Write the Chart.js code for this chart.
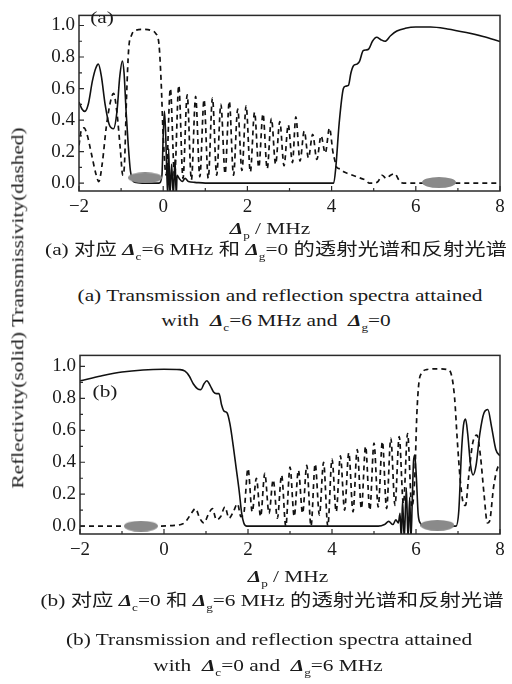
<!DOCTYPE html>
<html>
<head>
<meta charset="utf-8">
<title>Transmission and reflection spectra</title>
<script src="https://cdn.jsdelivr.net/npm/chart.js@4.4.1/dist/chart.umd.min.js"></script>
<style>
  html, body { margin: 0; padding: 0; background: #fff; }
  #fig { position: relative; width: 512px; height: 684px; overflow: hidden;
         font-family: "Liberation Serif", "Noto Sans CJK SC", serif; color: #1a1a1a; }
  canvas { position: absolute; left: 0; }
  .txt { position: absolute; white-space: nowrap; font-size: 17.5px; line-height: 1;
         transform: translate(-50%, -50%) scaleX(1.22); }
  .d { font-weight: bold; font-style: italic; }
  sub { font-size: 0.62em; vertical-align: -0.45em; line-height: 0; }
  #ylab { transform: translate(-50%, -50%) rotate(-90deg) scaleX(1.22); }
</style>
</head>
<body>
<div id="fig">
  <canvas id="chartA" width="512" height="230" style="top:0"></canvas>
  <canvas id="chartB" width="512" height="230" style="top:340px"></canvas>

  <div class="txt" style="left:102px;top:18px">(a)</div>
  <div class="txt" style="left:105px;top:392px">(b)</div>

  <div class="txt" style="left:270px;top:229px"><span class="d">Δ</span><sub>p</sub> / MHz</div>
  <div class="txt" style="left:276px;top:250px">(a) 对应 <span class="d">Δ</span><sub>c</sub>=6 MHz 和 <span class="d">Δ</span><sub>g</sub>=0 的透射光谱和反射光谱</div>
  <div class="txt" style="left:280px;top:296px">(a) Transmission and reflection spectra attained</div>
  <div class="txt" style="left:276px;top:321px">with &nbsp;<span class="d">Δ</span><sub>c</sub>=6 MHz and &nbsp;<span class="d">Δ</span><sub>g</sub>=0</div>

  <div class="txt" style="left:288px;top:577px"><span class="d">Δ</span><sub>p</sub> / MHz</div>
  <div class="txt" style="left:272px;top:601px">(b) 对应 <span class="d">Δ</span><sub>c</sub>=0 和 <span class="d">Δ</span><sub>g</sub>=6 MHz 的透射光谱和反射光谱</div>
  <div class="txt" style="left:269px;top:640px">(b) Transmission and reflection spectra attained</div>
  <div class="txt" style="left:268px;top:666px">with &nbsp;<span class="d">Δ</span><sub>c</sub>=0 and &nbsp;<span class="d">Δ</span><sub>g</sub>=6 MHz</div>

  <div class="txt" id="ylab" style="left:18px;top:308px">Reflectivity(solid) Transmissivity(dashed)</div>
</div>

<script>
// Axis ticks
const xTicks = [-2, 0, 2, 4, 6, 8];
const yTicks = [0, 0.2, 0.4, 0.6, 0.8, 1.0];
const xMinor = [-2, -1, 0, 1, 2, 3, 4, 5, 6, 7, 8];
const yMinor = [0, 0.1, 0.2, 0.3, 0.4, 0.5, 0.6, 0.7, 0.8, 0.9, 1.0];

// (a) Delta_c = 6 MHz, Delta_g = 0 : transmission (dashed), [Delta_p, T]
const transA = [
  [-2.0, 0.24], [-1.95, 0.33], [-1.88, 0.35], [-1.8, 0.3], [-1.7, 0.18], [-1.6, 0.06], [-1.53, 0.01],
  [-1.45, 0.12], [-1.35, 0.36], [-1.25, 0.52], [-1.18, 0.57], [-1.1, 0.45], [-1.02, 0.22], [-0.96, 0.05],
  [-0.92, 0.12], [-0.87, 0.55], [-0.82, 0.85], [-0.75, 0.94], [-0.65, 0.97], [-0.45, 0.975], [-0.3, 0.97],
  [-0.18, 0.95], [-0.1, 0.88], [-0.05, 0.65], [0.0, 0.3], [0.07, 0.05],
  [0.17, 0.6], [0.27, 0.04], [0.37, 0.62], [0.47, 0.03], [0.57, 0.56], [0.67, 0.02], [0.77, 0.55],
  [0.87, 0.04], [0.97, 0.53], [1.07, 0.03], [1.17, 0.54], [1.27, 0.05], [1.37, 0.5], [1.47, 0.06],
  [1.57, 0.52], [1.67, 0.05], [1.77, 0.47], [1.87, 0.08], [1.97, 0.49], [2.07, 0.07], [2.17, 0.45],
  [2.27, 0.1], [2.37, 0.44], [2.47, 0.09], [2.57, 0.41], [2.67, 0.12], [2.77, 0.39], [2.87, 0.11],
  [2.97, 0.37], [3.07, 0.13], [3.15, 0.42], [3.25, 0.14], [3.35, 0.33], [3.45, 0.16], [3.55, 0.31],
  [3.65, 0.15], [3.75, 0.3], [3.85, 0.19], [3.95, 0.35], [4.03, 0.2], [4.08, 0.14], [4.12, 0.1],
  [4.2, 0.09], [4.3, 0.07], [4.4, 0.06], [4.5, 0.05], [4.6, 0.04], [4.7, 0.03], [4.8, 0.02],
  [4.9, 0.0], [5.0, 0.0], [5.1, 0.01], [5.2, 0.05], [5.3, 0.03], [5.4, 0.05], [5.5, 0.06],
  [5.6, 0.02], [5.7, 0.0], [8.0, 0.0]
];

// (a) reflection (solid), [Delta_p, R]
const reflA = [
  [-2.0, 0.515], [-1.93, 0.47], [-1.86, 0.455], [-1.78, 0.5], [-1.68, 0.65], [-1.6, 0.73], [-1.54, 0.755],
  [-1.47, 0.68], [-1.38, 0.5], [-1.28, 0.37], [-1.18, 0.345], [-1.1, 0.45], [-1.03, 0.68], [-0.97, 0.775],
  [-0.93, 0.7], [-0.88, 0.45], [-0.83, 0.24], [-0.78, 0.08], [-0.74, 0.03], [-0.68, 0.005], [-0.5, 0.0],
  [-0.1, 0.0], [-0.03, 0.05], [0.0, 0.3], [0.03, 0.455], [0.06, 0.3], [0.09, 0.03], [0.11, -0.08],
  [0.13, 0.22], [0.16, -0.08], [0.2, 0.12], [0.24, -0.08], [0.28, 0.15], [0.31, -0.08], [0.33, 0.05],
  [0.38, 0.03], [0.45, 0.01], [0.52, 0.03], [0.6, 0.01], [0.75, 0.005], [1.0, 0.0],
  [4.05, 0.0], [4.1, 0.1], [4.18, 0.38], [4.28, 0.6], [4.33, 0.615], [4.4, 0.62], [4.46, 0.7],
  [4.52, 0.745], [4.6, 0.755], [4.66, 0.77], [4.75, 0.84], [4.82, 0.845], [4.88, 0.85], [4.97, 0.9],
  [5.07, 0.925], [5.17, 0.91], [5.27, 0.9], [5.4, 0.935], [5.55, 0.965], [5.75, 0.982], [6.0, 0.99],
  [6.35, 0.99], [6.75, 0.978], [7.2, 0.955], [7.6, 0.93], [8.0, 0.898]
];

// (b) Delta_c = 0, Delta_g = 6 MHz : transmission (dashed)
const transB = [
  [-2.0, 0.0], [-0.3, 0.0], [0.2, 0.004], [0.45, 0.015], [0.55, 0.04], [0.65, 0.08], [0.75, 0.11],
  [0.85, 0.05], [0.95, 0.02], [1.05, 0.07], [1.15, 0.11], [1.25, 0.04], [1.35, 0.06], [1.45, 0.12],
  [1.55, 0.05], [1.65, 0.09], [1.75, 0.14], [1.83, 0.06],
  [1.9, 0.08], [2.0, 0.36], [2.1, 0.09], [2.2, 0.3], [2.3, 0.06], [2.4, 0.33], [2.5, 0.08],
  [2.6, 0.29], [2.7, 0.05], [2.8, 0.32], [2.9, 0.0], [3.0, 0.37], [3.1, 0.06], [3.2, 0.35],
  [3.3, 0.08], [3.4, 0.38], [3.5, 0.0], [3.6, 0.39], [3.7, 0.07], [3.8, 0.4], [3.9, 0.0],
  [4.0, 0.42], [4.1, 0.09], [4.2, 0.44], [4.3, 0.1], [4.4, 0.46], [4.5, 0.09], [4.6, 0.48],
  [4.7, 0.11], [4.8, 0.5], [4.9, 0.1], [5.0, 0.52], [5.1, 0.12], [5.2, 0.53], [5.3, 0.11],
  [5.4, 0.55], [5.5, 0.13], [5.6, 0.56], [5.7, 0.14], [5.8, 0.58], [5.9, 0.12],
  [5.97, 0.3], [6.02, 0.7], [6.07, 0.9], [6.14, 0.96], [6.25, 0.98], [6.5, 0.985], [6.75, 0.98],
  [6.85, 0.94], [6.92, 0.8], [6.98, 0.55], [7.05, 0.3], [7.12, 0.15], [7.18, 0.13], [7.25, 0.3],
  [7.35, 0.52], [7.45, 0.57], [7.53, 0.45], [7.62, 0.2], [7.7, 0.02], [7.75, 0.03], [7.85, 0.25],
  [7.95, 0.37], [8.0, 0.38]
];

// (b) reflection (solid)
const reflB = [
  [-2.0, 0.91], [-1.5, 0.94], [-1.0, 0.965], [-0.5, 0.978], [0.0, 0.982], [0.38, 0.98], [0.5, 0.97],
  [0.6, 0.94], [0.7, 0.89], [0.8, 0.86], [0.88, 0.855], [0.95, 0.89], [1.02, 0.91], [1.1, 0.88],
  [1.18, 0.84], [1.25, 0.83], [1.31, 0.83], [1.37, 0.76], [1.43, 0.72], [1.5, 0.71], [1.57, 0.64],
  [1.65, 0.5], [1.72, 0.36], [1.79, 0.22], [1.85, 0.08], [1.9, 0.02], [1.97, 0.0],
  [5.1, 0.0], [5.25, 0.01], [5.35, 0.03], [5.45, 0.01], [5.52, 0.04], [5.58, 0.02], [5.62, 0.08],
  [5.65, -0.08], [5.68, 0.16], [5.72, -0.08], [5.77, 0.24], [5.81, -0.08], [5.85, 0.18],
  [5.88, -0.08], [5.91, 0.15], [5.94, 0.4], [5.97, 0.445], [6.01, 0.3], [6.05, 0.08], [6.1, 0.02],
  [6.2, 0.0], [6.95, 0.0], [7.02, 0.1], [7.08, 0.45], [7.13, 0.63], [7.18, 0.67], [7.23, 0.58],
  [7.3, 0.38], [7.36, 0.32], [7.43, 0.38], [7.52, 0.58], [7.62, 0.71], [7.71, 0.73], [7.8, 0.62],
  [7.9, 0.48], [8.0, 0.44]
];

// grey spots marking the band gaps
const spotsA = [[-0.43, 0.034], [6.55, 0.004]];
const spotsB = [[-0.55, 0.0], [6.51, 0.005]];

Chart.defaults.font.family = '"Liberation Serif", "Times New Roman", serif';
Chart.defaults.font.size = 19;
Chart.defaults.color = '#1a1a1a';

const toXY = p => ({ x: p[0], y: p[1] });

function spotImage(w, h) {
  const c = document.createElement('canvas');
  c.width = w;
  c.height = h;
  const g = c.getContext('2d');
  g.fillStyle = '#8a8a8a';
  g.beginPath();
  g.ellipse(w / 2, h / 2, w / 2, h / 2, 0, 0, Math.PI * 2);
  g.fill();
  return c;
}
const spot = spotImage(34, 11);

// box around the plot plus short inward ticks
const frameTicks = {
  id: 'frameTicks',
  afterDraw(chart) {
    const { ctx, chartArea: a, scales: { x, y } } = chart;
    ctx.save();
    ctx.strokeStyle = '#2a2a2a';
    ctx.lineWidth = 1.5;
    ctx.strokeRect(a.left, a.top, a.right - a.left, a.bottom - a.top);
    ctx.lineWidth = 1.2;
    ctx.beginPath();
    xMinor.forEach((v, i) => {
      const px = x.getPixelForValue(v);
      const len = i % 2 === 0 ? 5 : 3;
      ctx.moveTo(px, a.bottom);
      ctx.lineTo(px, a.bottom - len);
    });
    yMinor.forEach((v, i) => {
      const py = y.getPixelForValue(v);
      const len = i % 2 === 0 ? 5 : 3;
      ctx.moveTo(a.left, py);
      ctx.lineTo(a.left + len, py);
    });
    ctx.stroke();
    ctx.restore();
  }
};

function makePanel(id, trans, refl, spots, dims) {
  return new Chart(document.getElementById(id), {
    type: 'line',
    data: {
      datasets: [
        { data: spots.map(toXY), showLine: false, pointStyle: spot, pointRadius: 4, order: 0 },
        { data: refl.map(toXY), borderColor: '#111', borderWidth: 1.6, pointRadius: 0,
          cubicInterpolationMode: 'monotone', order: 1 },
        { data: trans.map(toXY), borderColor: '#111', borderWidth: 1.7, borderDash: [5, 4],
          cubicInterpolationMode: 'monotone', pointRadius: 0, order: 2 }
      ]
    },
    options: {
      responsive: false,
      animation: false,
      events: [],
      layout: { padding: { top: dims.top, right: 12, left: 0, bottom: 0 } },
      plugins: { legend: { display: false }, tooltip: { enabled: false } },
      scales: {
        x: {
          type: 'linear', min: -2, max: 8,
          afterBuildTicks: s => { s.ticks = xTicks.map(v => ({ value: v })); },
          afterFit: s => { s.height = dims.xHeight; },
          grid: { display: false, drawTicks: false },
          border: { display: false },
          ticks: { padding: 5, maxRotation: 0, autoSkip: false,
                   callback: v => v < 0 ? '\u2212' + Math.abs(v) : String(v) }
        },
        y: {
          type: 'linear', min: dims.yMin, max: dims.yMax,
          afterBuildTicks: s => { s.ticks = yTicks.map(v => ({ value: v })); },
          afterFit: s => { s.width = dims.yWidth; },
          grid: { display: false, drawTicks: false },
          border: { display: false },
          ticks: { padding: 4, callback: v => v.toFixed(1) }
        }
      }
    },
    plugins: [frameTicks]
  });
}

makePanel('chartA', transA, reflA, spotsA, { top: 5, xHeight: 39, yWidth: 79, yMin: -0.05, yMax: 1.064 });
makePanel('chartB', transB, reflB, spotsB, { top: 11, xHeight: 36, yWidth: 80, yMin: -0.049, yMax: 1.069 });
</script>
</body>
</html>
